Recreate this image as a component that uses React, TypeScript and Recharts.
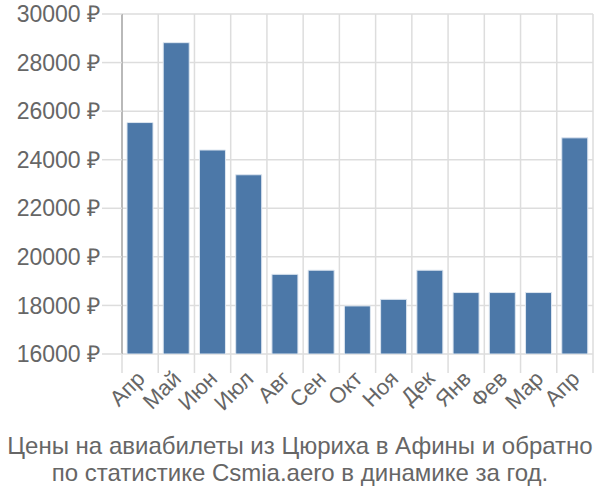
import React from "react";
import { BarChart, Bar, XAxis, YAxis, CartesianGrid } from "recharts";

const months = ["Апр", "Май", "Июн", "Июл", "Авг", "Сен", "Окт", "Ноя", "Дек", "Янв", "Фев", "Мар", "Апр"];
const prices = [25530, 28820, 24400, 23380, 19280, 19450, 17980, 18250, 19450, 18530, 18530, 18530, 24900];
const yTicks = [16000, 18000, 20000, 22000, 24000, 26000, 28000, 30000];
const boundaryTicks = [0, 1, 2, 3, 4, 5, 6, 7, 8, 9, 10, 11, 12, 13];
const titleLines = [
  "Цены на авиабилеты из Цюриха в Афины и обратно",
  "по статистике Csmia.aero в динамике за год.",
];

const data = months.map((m, i) => ({ idx: i, pos: i + 0.5, month: m, price: prices[i] }));

const FONT = "'Liberation Sans', Arial, sans-serif";
const TEXT = "#666666";
const GRID = "#dddddd";

const MonthTick = (props: any) => {
  const { x, y, payload } = props;
  return (
    <g transform={`translate(${x - 5},${y + 6})`}>
      <text
        x={0}
        y={0}
        dy="0.71em"
        textAnchor="end"
        transform="rotate(-45)"
        fill={TEXT}
        fontSize={22}
        fontFamily={FONT}
      >
        {months[payload.value]}
      </text>
    </g>
  );
};

const EmptyTick = () => <g />;

export default function App() {
  return (
    <div style={{ position: "fixed", left: 0, top: 0, width: 600, height: 500, background: "#fff" }}>
      <BarChart
        width={600}
        height={500}
        data={data}
        margin={{ top: 14, right: 7, bottom: 0, left: 0 }}
        barSize={26}
      >
        <CartesianGrid stroke={GRID} strokeWidth={1.5} xAxisId="a" />
        <XAxis
          xAxisId="cat"
          dataKey="idx"
          type="category"
          height={145}
          interval={0}
          tickLine={false}
          axisLine={false}
          tick={MonthTick}
        />
        <XAxis
          xAxisId="a"
          dataKey="pos"
          type="number"
          domain={[0, 13]}
          ticks={boundaryTicks}
          height={1}
          tick={EmptyTick}
          tickSize={19}
          tickLine={{ stroke: GRID, strokeWidth: 1.5 }}
          axisLine={false}
          allowDataOverflow
        />
        <YAxis
          width={122}
          domain={[16000, 30000]}
          ticks={yTicks}
          interval={0}
          allowDataOverflow
          tickSize={20}
          tickMargin={2}
          tickLine={{ stroke: GRID, strokeWidth: 1.5 }}
          axisLine={{ stroke: "#aaaaaa", strokeWidth: 1.5 }}
          tickFormatter={(v: number) => `${v} ₽`}
          tick={{ fill: TEXT, fontSize: 23, fontFamily: FONT }}
        />
        <Bar
          xAxisId="cat"
          dataKey="price"
          fill="#4c78a8"
          stroke="#dde6f0"
          strokeWidth={1}
          isAnimationActive={false}
        />
      </BarChart>
      <div
        style={{
          position: "absolute",
          left: 0,
          top: 432,
          width: 600,
          textAlign: "center",
          fontFamily: FONT,
          fontSize: 24,
          lineHeight: "27px",
          color: TEXT,
        }}
      >
        {titleLines.map((l, i) => (
          <div key={i}>{l}</div>
        ))}
      </div>
    </div>
  );
}
